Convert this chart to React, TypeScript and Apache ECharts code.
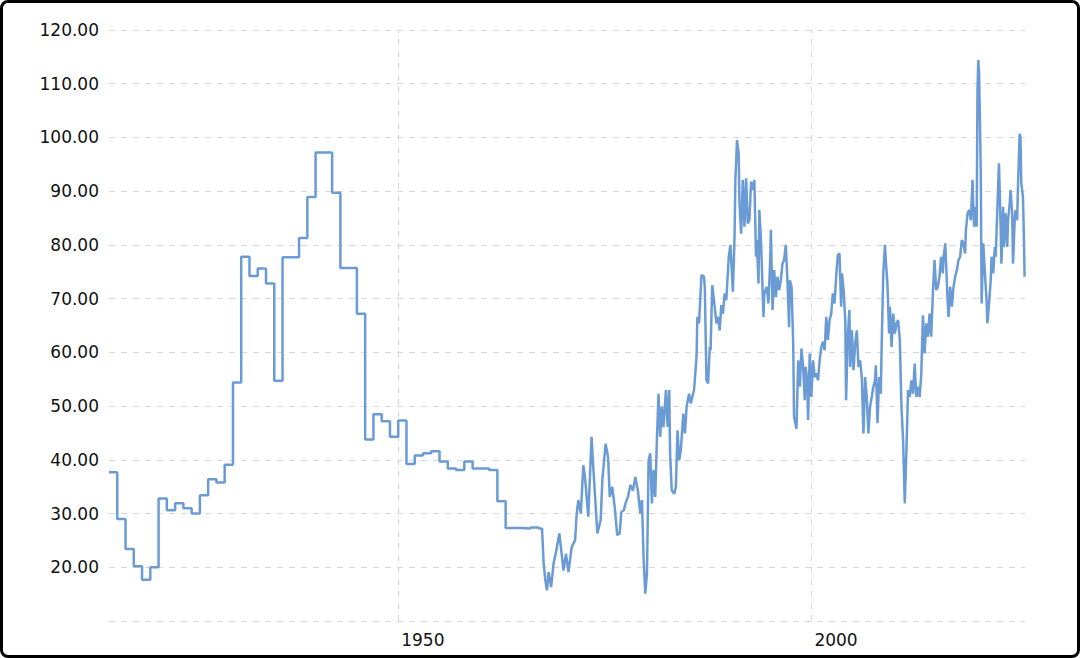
import React, { useEffect, useRef } from "react";
import * as echarts from "echarts";

// Annual (step) values, 1915–1967
const stepYears = [
  1915, 1916, 1917, 1918, 1919, 1920, 1921, 1922, 1923, 1924, 1925, 1926, 1927, 1928, 1929,
  1930, 1931, 1932, 1933, 1934, 1935, 1936, 1937, 1938, 1939, 1940, 1941, 1942, 1943, 1944,
  1945, 1946, 1947, 1948, 1949, 1950, 1951, 1952, 1953, 1954, 1955, 1956, 1957, 1958, 1959,
  1960, 1961, 1962, 1963, 1964, 1965, 1966, 1967, 1967.4,
];
const stepValues = [
  37.7, 29.0, 23.4, 20.2, 17.7, 20.0, 32.8, 30.6, 31.9, 31.0, 30.0, 33.4, 36.4, 35.8, 39.1,
  54.4, 77.8, 74.2, 75.6, 72.8, 54.7, 77.7, 77.7, 81.3, 88.9, 97.2, 97.2, 89.7, 75.7, 75.7,
  67.2, 43.8, 48.5, 47.2, 44.3, 47.3, 39.2, 40.8, 41.2, 41.6, 39.7, 38.4, 38.1, 39.7, 38.4,
  38.4, 38.1, 32.3, 27.3, 27.3, 27.2, 27.4, 27.2, 27.3,
];

// Higher-frequency values, 1967.4–2025.8
const monthlyPoints: [number, number][] = [
  [1967.4, 27.3], [1967.6, 20.7], [1967.8, 17.6], [1968.0, 15.7], [1968.2, 19.1], [1968.5, 16.3],
  [1968.8, 20.7], [1969.1, 22.9], [1969.5, 26.3], [1970.0, 19.4], [1970.3, 22.5], [1970.6, 19.1],
  [1971.0, 23.8], [1971.4, 25.0], [1971.6, 30.0], [1971.8, 32.5], [1972.1, 30.0], [1972.4, 39.0],
  [1972.6, 36.8], [1973.0, 29.4], [1973.4, 44.3], [1973.6, 38.7], [1974.1, 26.3], [1974.5, 28.8],
  [1974.7, 36.2], [1975.1, 43.0], [1975.4, 40.5], [1975.6, 33.1], [1975.9, 35.0], [1976.2, 31.2],
  [1976.5, 26.0], [1976.8, 26.3], [1977.0, 30.3], [1977.3, 30.6], [1977.5, 31.9], [1977.8, 33.1],
  [1978.1, 35.3], [1978.4, 34.3], [1978.7, 36.8], [1979.0, 34.3], [1979.3, 30.0], [1979.5, 32.5],
  [1979.7, 21.3], [1979.9, 15.1], [1980.1, 18.8], [1980.3, 39.9], [1980.5, 41.2], [1980.7, 31.9],
  [1980.9, 38.1], [1981.1, 33.1], [1981.3, 43.6], [1981.5, 52.3], [1981.7, 44.3], [1981.9, 49.9],
  [1982.1, 46.1], [1982.4, 53.0], [1982.6, 46.1], [1982.8, 53.0], [1982.9, 41.2], [1983.1, 34.3],
  [1983.4, 33.7], [1983.6, 35.0], [1983.8, 45.5], [1984.0, 39.9], [1984.2, 41.8], [1984.5, 48.6],
  [1984.7, 44.9], [1984.9, 49.9], [1985.2, 52.3], [1985.4, 50.5], [1985.8, 53.0], [1986.1, 59.2],
  [1986.2, 66.6], [1986.4, 65.4], [1986.7, 74.4], [1987.0, 74.1], [1987.1, 72.2], [1987.3, 54.8],
  [1987.5, 54.2], [1987.7, 61.0], [1987.8, 60.4], [1988.0, 72.5], [1988.3, 68.5], [1988.5, 65.4],
  [1988.7, 66.6], [1988.9, 64.1], [1989.1, 68.8], [1989.3, 67.2], [1989.5, 71.0], [1989.7, 69.7],
  [1990.0, 77.8], [1990.2, 80.0], [1990.5, 71.3], [1990.7, 81.5], [1990.8, 92.1], [1991.0, 99.5],
  [1991.2, 97.0], [1991.3, 87.7], [1991.5, 82.1], [1991.7, 92.1], [1991.9, 83.4], [1992.1, 92.4],
  [1992.3, 84.0], [1992.5, 84.6], [1992.7, 91.8], [1992.9, 90.2], [1993.1, 92.1], [1993.3, 77.8],
  [1993.4, 80.9], [1993.6, 72.8], [1993.7, 86.5], [1993.9, 80.9], [1994.2, 66.6], [1994.3, 71.0],
  [1994.6, 72.2], [1994.8, 69.1], [1995.0, 76.5], [1995.1, 82.8], [1995.3, 67.9], [1995.5, 75.3],
  [1995.7, 70.3], [1995.9, 74.1], [1996.1, 71.6], [1996.3, 73.4], [1996.5, 76.5], [1996.7, 77.2],
  [1996.9, 80.0], [1997.1, 73.4], [1997.3, 64.7], [1997.4, 73.4], [1997.6, 72.2], [1997.8, 61.7],
  [1997.9, 48.0], [1998.2, 45.8], [1998.4, 58.5], [1998.6, 53.6], [1998.8, 60.7], [1999.0, 57.3],
  [1999.2, 51.1], [1999.3, 57.3], [1999.5, 54.8], [1999.6, 47.4], [1999.8, 59.8], [2000.0, 51.7],
  [2000.2, 58.5], [2000.4, 55.4], [2000.6, 56.1], [2000.8, 54.8], [2001.0, 58.5], [2001.2, 61.0],
  [2001.4, 62.0], [2001.6, 60.4], [2001.8, 66.6], [2002.0, 62.3], [2002.2, 66.0], [2002.4, 67.2],
  [2002.6, 71.0], [2002.8, 69.1], [2003.0, 74.1], [2003.2, 78.1], [2003.4, 78.4], [2003.6, 68.5],
  [2003.7, 74.7], [2003.9, 71.6], [2004.1, 66.0], [2004.2, 51.1], [2004.4, 62.9], [2004.6, 67.9],
  [2004.7, 57.3], [2004.9, 64.1], [2005.1, 56.7], [2005.3, 61.7], [2005.5, 64.1], [2005.7, 57.3],
  [2005.9, 58.5], [2006.1, 55.4], [2006.3, 44.9], [2006.5, 55.4], [2006.7, 51.7], [2006.9, 44.9],
  [2007.1, 49.9], [2007.3, 51.7], [2007.5, 53.6], [2007.7, 54.8], [2007.8, 57.6], [2008.0, 46.8],
  [2008.2, 55.4], [2008.4, 52.3], [2008.5, 61.0], [2008.7, 74.7], [2008.9, 80.0], [2009.0, 77.2],
  [2009.2, 72.8], [2009.4, 63.5], [2009.5, 68.5], [2009.7, 61.0], [2009.9, 67.2], [2010.1, 63.5],
  [2010.3, 65.4], [2010.5, 66.0], [2010.7, 62.3], [2010.9, 49.9], [2011.1, 43.6], [2011.3, 31.9],
  [2011.5, 41.8], [2011.7, 53.0], [2011.9, 51.7], [2012.1, 54.8], [2012.3, 52.3], [2012.5, 57.9],
  [2012.7, 51.7], [2012.9, 53.6], [2013.1, 51.7], [2013.3, 56.1], [2013.4, 61.7], [2013.5, 66.9],
  [2013.7, 59.8], [2013.9, 65.4], [2014.1, 62.9], [2014.3, 67.2], [2014.5, 62.9], [2014.7, 71.0],
  [2014.9, 77.2], [2015.1, 71.6], [2015.3, 72.2], [2015.5, 74.1], [2015.7, 77.8], [2015.9, 74.7],
  [2016.0, 77.8], [2016.2, 80.3], [2016.5, 69.1], [2016.6, 66.6], [2016.8, 72.2], [2017.0, 68.5],
  [2017.2, 72.2], [2017.4, 74.1], [2017.6, 75.3], [2017.8, 77.2], [2018.0, 77.8], [2018.2, 80.9],
  [2018.4, 80.3], [2018.6, 78.4], [2018.7, 82.8], [2018.9, 85.9], [2019.1, 86.5], [2019.3, 84.6],
  [2019.5, 92.1], [2019.6, 86.5], [2019.7, 83.4], [2019.9, 87.1], [2020.0, 83.4], [2020.1, 108.8],
  [2020.2, 114.4], [2020.3, 111.9], [2020.5, 93.3], [2020.6, 69.1], [2020.8, 80.3], [2021.0, 74.7],
  [2021.2, 69.7], [2021.3, 65.4], [2021.5, 69.1], [2021.7, 73.4], [2021.8, 77.8], [2022.0, 74.7],
  [2022.2, 79.6], [2022.3, 77.8], [2022.5, 86.5], [2022.7, 95.2], [2022.9, 83.4], [2023.0, 76.5],
  [2023.2, 87.1], [2023.3, 79.6], [2023.5, 85.9], [2023.7, 79.6], [2023.8, 84.6], [2024.0, 87.7],
  [2024.1, 90.2], [2024.3, 85.9], [2024.4, 76.5], [2024.6, 84.6], [2024.7, 86.5], [2024.9, 84.6],
  [2025.0, 90.8], [2025.2, 100.7], [2025.3, 100.1], [2025.4, 91.5], [2025.6, 89.0], [2025.7, 82.8],
  [2025.8, 74.1],
];

const labelledYears = [1950, 2000];
const yMin = 10;
const yMax = 120;
const yStep = 10;
const xMin = 1915;
const xMax = 2025.85;

const LINE_COLOR = "#6b9bd5";
const GRID_COLOR = "#d9d9d9";
const FONT = "DejaVu Sans, Verdana, sans-serif";

export default function App() {
  const ref = useRef<HTMLDivElement>(null);

  useEffect(() => {
    if (!ref.current) return;
    const chart = echarts.init(ref.current, undefined, { renderer: "svg" });
    const stepData = stepYears.map((y, i) => [y, stepValues[i]]);
    chart.setOption({
      animation: false,
      grid: { left: 109, right: 55, top: 30, bottom: 37, containLabel: false },
      xAxis: {
        type: "value",
        min: xMin,
        max: xMax,
        interval: 5,
        axisLine: { show: false },
        axisTick: { show: false },
        splitLine: { show: false },
        axisLabel: {
          showMaxLabel: false,
          align: "left",
          margin: 10,
          padding: [0, 0, 0, 3],
          fontFamily: FONT,
          fontSize: 17,
          color: "#111",
          formatter: (v: number) => (labelledYears.includes(v) ? String(v) : ""),
        },
      },
      yAxis: {
        type: "value",
        min: yMin,
        max: yMax,
        interval: yStep,
        axisLine: { show: false },
        axisTick: { show: false },
        splitLine: {
          show: true,
          lineStyle: { color: GRID_COLOR, type: [6, 6], width: 1 },
        },
        axisLabel: {
          margin: 10,
          fontFamily: FONT,
          fontSize: 17,
          color: "#111",
          formatter: (v: number) => (v === yMin ? "" : v.toFixed(2)),
        },
      },
      series: [
        {
          type: "line",
          data: stepData,
          step: "end",
          showSymbol: false,
          z: 3,
          lineStyle: { color: LINE_COLOR, width: 2.5 },
          markLine: {
            silent: true,
            z: 1,
            symbol: ["none", "none"],
            label: { show: false },
            lineStyle: { color: GRID_COLOR, type: [6, 6], width: 1 },
            data: labelledYears.map((y) => ({ xAxis: y })),
          },
        },
        {
          type: "line",
          data: monthlyPoints,
          showSymbol: false,
          z: 3,
          lineStyle: { color: LINE_COLOR, width: 2.5 },
        },
      ],
    });
    return () => chart.dispose();
  }, []);

  return (
    <div style={{ position: "fixed", left: 0, top: 0, width: 1080, height: 658, background: "#fff" }}>
      <div ref={ref} style={{ position: "absolute", left: 0, top: 0, width: 1080, height: 658 }} />
      <div
        style={{
          position: "absolute",
          left: 0,
          top: 0,
          width: 1080,
          height: 658,
          boxSizing: "border-box",
          border: "3px solid #000",
          borderRadius: 8,
          pointerEvents: "none",
        }}
      />
    </div>
  );
}
